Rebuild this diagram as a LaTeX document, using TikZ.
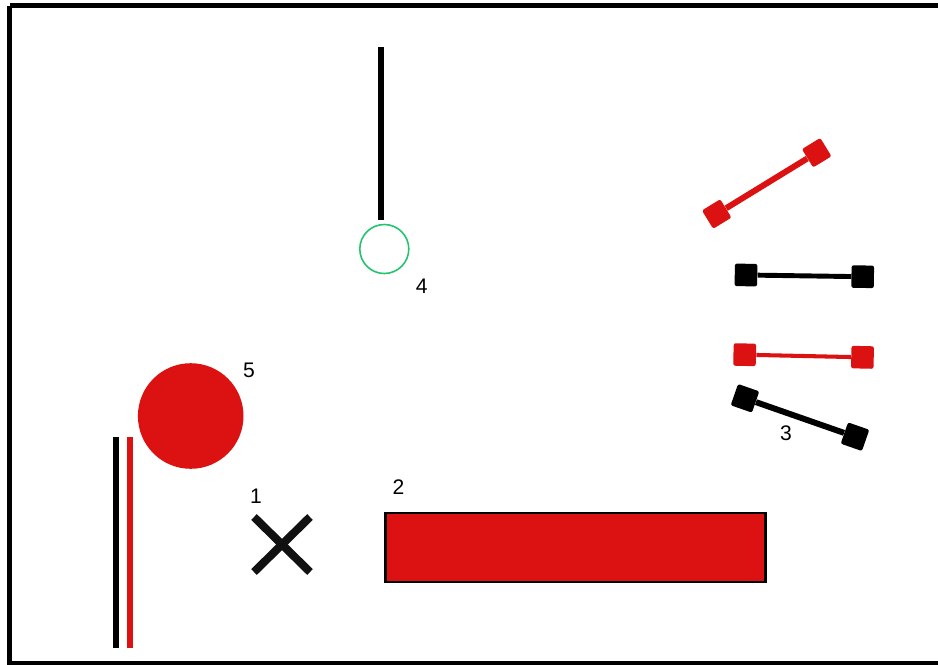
\documentclass[tikz,border=0pt]{standalone}
\usepackage{fontspec}
\setmainfont{Liberation Sans}
\usetikzlibrary{positioning}
\definecolor{plotred}{RGB}{220,18,18}
\definecolor{ringgreen}{RGB}{34,196,110}
\definecolor{crossblack}{RGB}{17,17,17}

\begin{document}
\begin{tikzpicture}[x=0.02cm,y=-0.02cm,
  numlabel/.style={font=\fontsize{12pt}{12pt}\selectfont,inner sep=0pt,text=black},
  weight/.style={rectangle,minimum size=0.45cm,inner sep=0pt,rounded corners=1.2pt,fill=#1},
  bar/.style={line width=#1}]
\useasboundingbox (0,0) rectangle (938,664);
\fill[white] (-20,-20) rectangle (980,700);
\draw[line width=2.8pt] (9.5,5.5) -- (980,5.5);
\draw[line width=2.8pt] (9.5,5.5) -- (9.5,663.5) -- (980,663.5);

% pole and ring
\draw[line width=3.4pt] (381,47) -- (381,220);
\draw[ringgreen,line width=0.9pt] (384.3,249) circle (24.5);
\node[numlabel] (lab4) at (421.7,285.8) {4};

% big disc
\fill[plotred] (190.7,416) circle (52.8);
\node[numlabel] (lab5) at (249,370.7) {5};

% double line
\draw[black,line width=3.4pt] (116.3,436.7) -- (116.3,647.7);
\draw[plotred,line width=3.2pt] (129.7,436.7) -- (129.7,647.7);

% cross
\draw[crossblack,line width=4.6pt] (254,517) -- (310,572);
\draw[crossblack,line width=4.6pt] (254,572) -- (310,517);
\node[numlabel] (lab1) at (256,496.7) {1};

% long block
\draw[fill=plotred,line width=1.2pt] (385.5,513.2) rectangle (765.5,582.2);
\node[numlabel] (lab2) at (398.5,486.8) {2};

% dumbbells
\node[weight=plotred,rotate=31.5,minimum size=0.43cm] (ra) at (716.7,214) {};
\node[weight=plotred,rotate=31.5,minimum size=0.43cm] (rb) at (816.7,152.7) {};
\draw[plotred,bar=3.4pt] (ra) -- (rb);

\node[weight=black,rotate=-0.8] (ka) at (746,275) {};
\node[weight=black,rotate=-0.8] (kb) at (862.7,276.7) {};
\draw[black,bar=2.8pt] (ka) -- (kb);

\node[weight=plotred,rotate=-1.3] (sa) at (744.7,354.7) {};
\node[weight=plotred,rotate=-1.3] (sb) at (862.5,357.3) {};
\draw[plotred,bar=2.3pt] (sa) -- (sb);

\node[weight=black,rotate=-19.2] (ta) at (745,398.3) {};
\node[weight=black,rotate=-19.2] (tb) at (855,436.7) {};
\draw[black,bar=3.4pt] (ta) -- (tb);
\node[numlabel] (lab3) at (786,433) {3};

\end{tikzpicture}
\end{document}
